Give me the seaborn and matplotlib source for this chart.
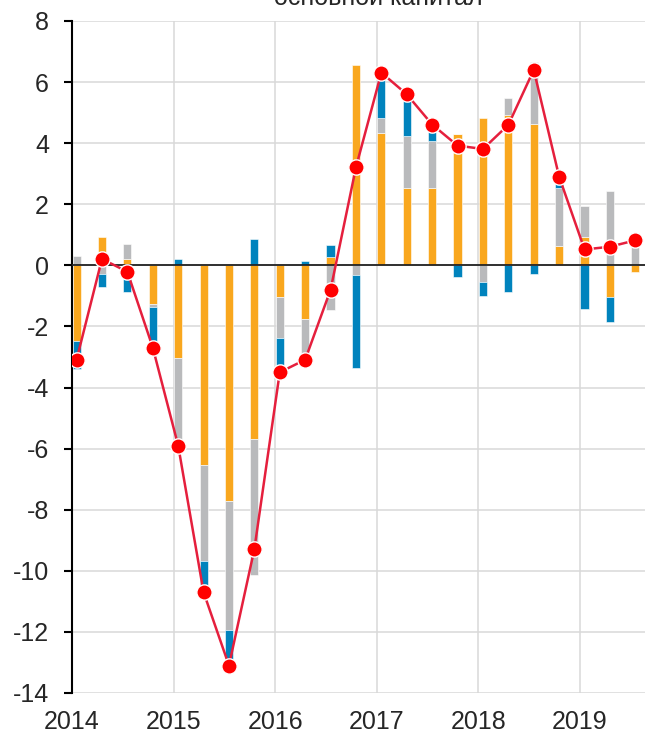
import numpy as np
import pandas as pd
import matplotlib
matplotlib.use("Agg")
import matplotlib.pyplot as plt
import seaborn as sns

# Datos: contribuciones trimestrales (2014 T1 .. 2019 T3)
quarters = [f"{y}Q{q}" for y in range(2014, 2020) for q in range(1, 5)][:23]
orange = [-2.49, 0.93, 0.22, -1.27, -3.03, -6.54, -7.71, -5.68, -1.02, -1.76, 0.27, 6.55,
          4.33, 2.52, 2.52, 4.31, 4.82, 4.91, 4.62, 0.65, 0.93, -1.05, -0.23]
gray = [0.32, -0.27, 0.47, -0.10, -3.09, -3.13, -4.22, -4.45, -1.35, -1.47, -1.45, -0.32,
        0.51, 1.70, 1.56, 0.00, -0.55, 0.58, 2.05, 1.87, 1.01, 2.45, 1.00]
blue = [-0.91, -0.44, -0.88, -1.32, 0.22, -1.03, -1.17, 0.85, -1.13, 0.14, 0.40, -3.03,
        1.47, 1.38, 0.53, -0.39, -0.45, -0.88, -0.27, 0.38, -1.43, -0.80, 0.05]
total = [-3.09, 0.21, -0.21, -2.69, -5.90, -10.70, -13.10, -9.29, -3.50, -3.09, -0.80, 3.21,
         6.31, 5.60, 4.61, 3.92, 3.81, 4.60, 6.40, 2.90, 0.52, 0.61, 0.82]
years = [2014, 2015, 2016, 2017, 2018, 2019]
yticks = list(range(-14, 9, 2))

# posicion de cada trimestre sobre un eje de años
x = np.array([int(q[:4]) + (int(q[-1]) - 1) * 0.25 + 0.045 for q in quarters])
df = pd.DataFrame({"x": x, "total": total})

sns.set_theme(style="white")
plt.rcParams['font.family'] = ['Liberation Sans', 'DejaVu Sans']

fig = plt.figure(figsize=(6.45, 7.36), dpi=100)
ax = fig.add_axes([72 / 645, 43 / 736, 1 - 72 / 645, 672 / 736])

colors = ["#F9A71E", "#B9BABC", "#0083BD"]
pos_base = np.zeros(len(x))
neg_base = np.zeros(len(x))
for vals, c in zip([orange, gray, blue], colors):
    v = np.array(vals)
    bottom = np.where(v >= 0, pos_base, neg_base)
    ax.bar(x, v, bottom=bottom, width=0.08, color=c, edgecolor="white",
           linewidth=0.4, zorder=2)
    pos_base += np.where(v >= 0, v, 0)
    neg_base += np.where(v < 0, v, 0)

ax.axhline(0, color="#222222", lw=1.3, zorder=3)

sns.lineplot(data=df, x="x", y="total", ax=ax, color="#E51F3D", lw=1.8,
             marker="o", markersize=11, markerfacecolor="#FF0000",
             markeredgecolor="white", markeredgewidth=1.0, zorder=4)

ax.set_xlim(2014, 2019.64)
ax.set_ylim(-14, 8)
ax.set_yticks(yticks)
ax.set_yticklabels([str(t) for t in yticks])
ax.set_xticks(years)
ax.set_xticklabels([str(y) for y in years])
ax.set_xlabel("")
ax.set_ylabel("")

ax.grid(True, color="#D9D9D9", lw=1.1, zorder=0)
ax.set_axisbelow(True)
for s in ["top", "right", "bottom"]:
    ax.spines[s].set_visible(False)
ax.spines["left"].set_color("black")
ax.spines["left"].set_linewidth(1.5)
ax.tick_params(axis="y", left=True, length=5.5, width=1.5, color="black",
               labelsize=18, pad=11)
ax.tick_params(axis="x", bottom=False, labelsize=18, pad=6)

fig.text(0.586, 1 - 5 / 736, "основной капитал", ha="center", va="baseline", fontsize=18)

fig.savefig("out.png", dpi=100)
